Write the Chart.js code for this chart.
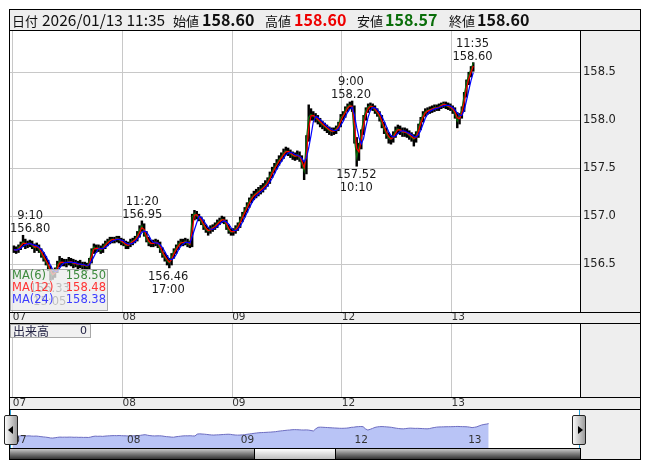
<!DOCTYPE html>
<html><head><meta charset="utf-8">
<script src="https://cdn.jsdelivr.net/npm/chart.js@4.4.1/dist/chart.umd.min.js"></script>
<style>
html,body{margin:0;padding:0;background:#fff;}
#wrap{position:relative;width:653px;height:470px;overflow:hidden;background:#fff;font-family:"DejaVu Sans",sans-serif;}
.a{position:absolute;}
.ln{position:absolute;background:#000;}
.g{position:absolute;background:#eeeeee;}
canvas{position:absolute;left:0;top:0;}
#hdr{position:absolute;left:12px;top:9px;height:21px;line-height:21px;white-space:nowrap;font-family:"Noto Sans CJK JP",sans-serif;color:#111;}
#hdr span{display:inline-block;}
.jl{font-size:13px;}
.dt{font-size:15.5px;}
.bv{font-size:16px;font-weight:bold;}
#leg{position:absolute;left:10px;top:269px;width:96px;height:40px;border:1px solid #a8a8a8;background:rgba(236,236,236,0.78);font-family:"DejaVu Sans",sans-serif;font-size:11.5px;}
#leg div{position:absolute;left:1px;right:1px;height:12px;line-height:12px;}
#leg .v{position:absolute;right:0;top:0;}
#vol{position:absolute;left:10px;top:324px;width:79px;height:12px;border:1px solid #a8a8a8;background:rgba(240,240,240,0.9);line-height:12px;}
.btn{position:absolute;top:415px;height:28px;border:1px solid #222;border-radius:2px;background:linear-gradient(to right,#fafafa,#9c9c9c);}
.tri{position:absolute;top:10px;width:0;height:0;border-top:4px solid transparent;border-bottom:4px solid transparent;}
</style></head><body>
<div id="wrap">
  <!-- grey panels -->
  <div class="g" style="left:10px;top:10px;width:630px;height:20px;"></div>
  <div class="g" style="left:581px;top:31px;width:59px;height:281px;"></div>
  <div class="g" style="left:10px;top:313px;width:630px;height:10px;"></div>
  <div class="g" style="left:581px;top:324px;width:59px;height:73px;"></div>
  <div class="g" style="left:10px;top:398px;width:630px;height:11px;"></div>
  <div class="g" style="left:580px;top:410px;width:60px;height:49px;"></div>

  <canvas id="main" width="653" height="470"></canvas>
  <canvas id="volc" width="653" height="470"></canvas>
  <canvas id="nav" width="653" height="470"></canvas>

  <!-- structural lines -->
  <div class="a" style="left:9px;top:9px;width:630px;height:449px;border:1px solid #000;"></div>
  <div class="ln" style="left:10px;top:30px;width:630px;height:1px;"></div>
  <div class="ln" style="left:10px;top:312px;width:630px;height:1px;"></div>
  <div class="ln" style="left:10px;top:323px;width:630px;height:1px;"></div>
  <div class="ln" style="left:10px;top:397px;width:630px;height:1px;"></div>
  <div class="ln" style="left:10px;top:409px;width:630px;height:1px;"></div>
  <div class="ln" style="left:580px;top:31px;width:1px;height:281px;"></div>
  <div class="ln" style="left:580px;top:324px;width:1px;height:73px;"></div>

  <!-- navigator markers -->
  <div class="a" style="left:10px;top:410px;width:1px;height:5px;background:#2a9fd6;"></div>
  <div class="a" style="left:10px;top:444px;width:1px;height:4px;background:#2a9fd6;"></div>
  <div class="a" style="left:579px;top:410px;width:1px;height:5px;background:#2a9fd6;"></div>
  <div class="a" style="left:579px;top:444px;width:1px;height:4px;background:#2a9fd6;"></div>

  <!-- scrollbar -->
  <div class="a" style="left:10px;top:448px;width:570px;height:10px;border-top:1px solid #000;background:linear-gradient(to bottom,#c8c8c8,#7a7a7a 50%,#333);"></div>
  <div class="a" style="left:254px;top:448px;width:80px;height:10px;border-top:1px solid #000;border-left:1px solid #000;border-right:1px solid #000;background:linear-gradient(to bottom,#ffffff,#bcbcbc);"></div>
  <div class="ln" style="left:580px;top:448px;width:1px;height:11px;"></div>

  <div class="btn" style="left:4px;width:12px;"><div class="tri" style="left:3px;border-right:5px solid #000;"></div></div>
  <div class="btn" style="left:572px;width:12px;"><div class="tri" style="left:5px;border-left:5px solid #000;"></div></div>

  <div id="hdr"></div>
  <div id="leg"></div>
  <div id="vol"></div>
</div>
<script>
// ---------- data ----------
const dayLabels = ['07','08','09','12','13'];
const dayTicks = [0, 48, 96, 144, 192];           // bar index at 7:00 of each day
const priceTicks = [156.5, 157.0, 157.5, 158.0, 158.5];
const barMinutes = 30, sourceBarMinutes = 5, dayStartMinutes = 420;

const closes = [
// 07
156.65,156.64,156.67,156.70,156.73,156.70,156.71,156.72,156.69,156.67,156.69,156.65,
156.60,156.56,156.52,156.47,156.40,156.38,156.43,156.49,156.53,156.51,156.52,156.51,
156.53,156.52,156.50,156.51,156.49,156.50,156.48,156.49,156.47,156.53,156.63,156.68,
156.65,156.67,156.64,156.68,156.71,156.73,156.75,156.76,156.75,156.77,156.75,156.73,
// 08
156.72,156.69,156.70,156.73,156.74,156.76,156.80,156.86,156.90,156.82,156.76,156.72,
156.71,156.72,156.73,156.71,156.65,156.60,156.57,156.53,156.51,156.58,156.63,156.67,
156.71,156.73,156.72,156.74,156.71,156.70,156.99,157.03,157.00,156.98,156.94,156.89,
156.86,156.84,156.87,156.88,156.90,156.93,156.95,156.97,156.95,156.89,156.85,156.83,
// 09
156.84,156.87,156.90,156.96,157.01,157.06,157.11,157.16,157.20,157.22,157.24,157.26,
157.28,157.30,157.33,157.36,157.42,157.47,157.51,157.55,157.59,157.62,157.66,157.68,
157.67,157.65,157.63,157.62,157.64,157.61,157.54,157.47,157.80,158.03,158.06,158.04,
158.02,158.00,157.97,157.95,157.93,157.91,157.89,157.88,157.89,157.91,157.95,158.03,
// 12
158.05,158.11,158.14,158.16,158.13,157.80,157.61,157.73,157.87,158.02,158.10,158.14,
158.15,158.13,158.10,158.07,158.03,157.96,157.90,157.85,157.81,157.80,157.84,157.89,
157.91,157.89,157.87,157.88,157.86,157.84,157.82,157.80,157.84,157.93,158.00,158.06,
158.09,158.10,158.11,158.12,158.13,158.13,158.14,158.16,158.17,158.15,158.14,158.13,
// 13
158.11,158.06,157.99,158.04,158.11,158.26,158.39,158.47,158.53,158.60
];
const highs = [
156.69,156.68,156.70,156.73,156.80,156.76,156.74,156.75,156.74,156.71,156.72,156.70,
156.66,156.62,156.58,156.54,156.48,156.43,156.46,156.53,156.58,156.56,156.55,156.55,
156.57,156.56,156.55,156.54,156.53,156.54,156.52,156.52,156.51,156.56,156.66,156.71,
156.70,156.70,156.69,156.71,156.74,156.76,156.78,156.78,156.78,156.79,156.79,156.77,
156.76,156.74,156.73,156.76,156.77,156.79,156.84,156.90,156.95,156.92,156.84,156.78,
156.75,156.75,156.76,156.75,156.73,156.67,156.62,156.59,156.56,156.61,156.66,156.70,
156.74,156.76,156.76,156.77,156.76,156.74,157.02,157.06,157.05,157.02,156.99,156.96,
156.91,156.88,156.90,156.91,156.93,156.96,156.98,157.00,156.99,156.96,156.91,156.87,
156.87,156.90,156.93,156.99,157.04,157.09,157.14,157.19,157.23,157.26,157.28,157.30,
157.32,157.34,157.37,157.40,157.46,157.51,157.55,157.59,157.63,157.66,157.70,157.72,
157.71,157.69,157.67,157.66,157.68,157.67,157.63,157.57,157.84,158.16,158.12,158.09,
158.07,158.05,158.02,157.99,157.97,157.95,157.93,157.92,157.92,157.94,157.98,158.06,
158.09,158.14,158.17,158.19,158.20,158.15,157.82,157.76,157.90,158.05,158.13,158.17,
158.18,158.17,158.15,158.12,158.09,158.05,157.98,157.92,157.87,157.84,157.88,157.93,
157.95,157.94,157.92,157.92,157.91,157.89,157.87,157.85,157.88,157.96,158.03,158.09,
158.12,158.13,158.14,158.15,158.16,158.16,158.17,158.18,158.19,158.19,158.18,158.17,
158.15,158.13,158.08,158.07,158.14,158.29,158.42,158.50,158.56,158.60
];
const lows = [
156.62,156.61,156.62,156.65,156.68,156.66,156.67,156.68,156.66,156.62,156.64,156.62,
156.57,156.53,156.49,156.43,156.33,156.34,156.36,156.41,156.47,156.48,156.48,156.47,
156.49,156.48,156.46,156.47,156.45,156.46,156.44,156.45,156.43,156.45,156.51,156.61,
156.62,156.63,156.61,156.62,156.66,156.69,156.71,156.72,156.72,156.73,156.72,156.70,
156.69,156.66,156.66,156.68,156.70,156.72,156.74,156.78,156.84,156.79,156.73,156.69,
156.68,156.68,156.69,156.67,156.62,156.57,156.53,156.49,156.46,156.49,156.56,156.61,
156.65,156.69,156.69,156.70,156.68,156.67,156.68,156.96,156.97,156.95,156.91,156.86,
156.83,156.80,156.82,156.84,156.86,156.88,156.91,156.93,156.92,156.86,156.82,156.80,
156.80,156.82,156.85,156.88,156.94,156.99,157.04,157.09,157.14,157.17,157.19,157.21,
157.23,157.25,157.28,157.31,157.34,157.40,157.45,157.49,157.53,157.57,157.60,157.64,
157.63,157.61,157.59,157.58,157.59,157.57,157.50,157.38,157.44,157.78,158.00,158.00,
157.98,157.96,157.93,157.91,157.89,157.87,157.85,157.84,157.85,157.86,157.89,157.93,
158.00,158.03,158.09,158.12,158.09,157.76,157.52,157.58,157.70,157.85,158.00,158.08,
158.11,158.10,158.07,158.04,157.99,157.92,157.86,157.81,157.76,157.75,157.77,157.82,
157.86,157.85,157.83,157.83,157.82,157.80,157.78,157.73,157.77,157.82,157.90,157.98,
158.04,158.06,158.07,158.08,158.09,158.10,158.10,158.12,158.13,158.12,158.11,158.10,
158.07,158.02,157.92,157.96,158.02,158.09,158.24,158.37,158.45,158.51
];

const maPeriods = [6, 12, 24];
const maLabels = ['MA(6)', 'MA(12)', 'MA(24)'];
const maLastValues = ['158.50', '158.48', '158.38'];
const maColors = ['#0a6e0a', '#ff0000', '#0000ff'];
const maTextColors = ['#3d8a3d', '#ff3333', '#3c3cff'];

const annoTimes  = ['9:10', '15:05', '11:20', '17:00', '9:00', '10:10', '11:35'];
const annoDays   = [0, 0, 1, 1, 3, 3, 4];
const annoValues = [156.80, 156.33, 156.95, 156.46, 158.20, 157.52, 158.60];
const annoSides  = ['up', 'down', 'up', 'down', 'up', 'down', 'up'];

const headerDate = '2026/01/13 11:35';
const headerLabels = ['始値', '高値', '安値', '終値'];
const headerValues = ['158.60', '158.60', '158.57', '158.60'];
const headerColors = ['#111', '#ee0000', '#0a6e0a', '#111'];
const volumeLabel = '出来高', volumeLast = '0';

// ---------- html parts ----------
(function(){
  let h = '<span class="jl" style="width:30px">日付</span><span class="dt" style="width:131px">' + headerDate + '</span>';
  const lw = [29, 29, 28, 28], vw = [63, 63, 64, 60];
  headerLabels.forEach((l, k) => {
    h += '<span class="jl" style="width:' + lw[k] + 'px">' + l + '</span>';
    h += '<span class="bv" style="width:' + vw[k] + 'px;color:' + headerColors[k] + '">' + headerValues[k] + '</span>';
  });
  document.getElementById('hdr').innerHTML = h;
  let lg = '';
  maLabels.forEach((l, k) => {
    lg += '<div style="top:' + (-1 + 12 * k) + 'px;color:' + maTextColors[k] + '">' + l + '<span class="v">' + maLastValues[k] + '</span></div>';
  });
  document.getElementById('leg').innerHTML = lg;
  document.getElementById('vol').innerHTML = '<span style="position:absolute;left:2px;top:0;font-family:\'Noto Sans CJK JP\';font-size:12px;color:#222244;">' + volumeLabel + '</span><span style="position:absolute;right:3px;top:0;font-size:11px;color:#222244;">' + volumeLast + '</span>';
})();

// ---------- helpers ----------
function sma(arr, n) {
  return arr.map((_, i) => {
    const s = Math.max(0, i - n + 1);
    let t = 0;
    for (let j = s; j <= i; j++) t += arr[j];
    return t / (i - s + 1);
  });
}
function timeToIndex(day, t) {
  const [hh, mm] = t.split(':').map(Number);
  return dayTicks[day] + (hh * 60 + mm - dayStartMinutes) / barMinutes;
}
const pts = arr => arr.map((v, i) => ({x: i + 0.5, y: v}));
const maBars = maPeriods.map(p => Math.max(1, Math.round(p * sourceBarMinutes / barMinutes)));
const candles = closes.map((c, i) => ({x: i + 0.5, y: [lows[i], highs[i]]}));

const gridColor = '#c8c8c8';
const dayAxis = (min, max, h, pad) => ({
  type: 'linear', min: min, max: max, offset: false,
  afterBuildTicks: s => { s.ticks = dayTicks.map(v => ({value: v})); },
  afterFit: s => { s.height = h; },
  grid: {color: gridColor, drawTicks: false, offset: false},
  border: {display: false},
  ticks: {align: 'start', padding: pad, autoSkip: false, maxRotation: 0,
          font: {family: 'DejaVu Sans', size: 10.5, lineHeight: 1}, color: '#333',
          callback: (v, i) => dayLabels[i]}
});

const annoPlugin = {
  id: 'anno',
  afterDatasetsDraw(chart) {
    const {ctx, chartArea: a} = chart;
    const x = chart.scales.x, y = chart.scales.y;
    ctx.save();
    ctx.font = '11.5px "DejaVu Sans"';
    ctx.fillStyle = '#1a1a1a';
    ctx.textAlign = 'center';
    ctx.textBaseline = 'alphabetic';
    annoTimes.forEach((t, k) => {
      const px = x.getPixelForValue(timeToIndex(annoDays[k], t));
      const py = y.getPixelForValue(annoValues[k]);
      const val = annoValues[k].toFixed(2);
      const w = Math.max(ctx.measureText(val).width, ctx.measureText(t).width);
      const cx = Math.min(Math.max(px, a.left + w / 2), a.right - w / 2);
      if (annoSides[k] === 'up') { ctx.fillText(val, cx, py - 3); ctx.fillText(t, cx, py - 16); }
      else { ctx.fillText(val, cx, py + 12); ctx.fillText(t, cx, py + 25); }
    });
    ctx.restore();
  }
};

const common = {responsive: false, animation: false, devicePixelRatio: 1,
  plugins: {legend: {display: false}, tooltip: {enabled: false}}};

// ---------- main price chart ----------
const maSets = maBars.map((n, k) => ({
  type: 'line', data: pts(sma(closes, n)), borderColor: maColors[k], borderWidth: 1.2,
  pointRadius: 0, tension: 0, order: 3 - k
}));
new Chart(document.getElementById('main'), {
  type: 'bar',
  data: {datasets: [
    ...maSets,
    {type: 'bar', data: candles, backgroundColor: '#000', borderWidth: 0, barThickness: 1.8, grouped: false, order: 4}
  ]},
  options: Object.assign({}, common, {
    layout: {padding: {left: 10, top: 31, right: 13, bottom: 147}},
    scales: {
      x: dayAxis(-1.2, 248.2, 11, 0),
      y: {position: 'right', min: 156.0, max: 158.93,
          afterBuildTicks: s => { s.ticks = priceTicks.map(v => ({value: v})); },
          afterFit: s => { s.width = 60; },
          grid: {color: gridColor, drawTicks: false},
          border: {display: false},
          ticks: {padding: 3, font: {family: 'DejaVu Sans', size: 11.5}, color: '#222',
                  callback: v => v.toFixed(1)}}
    }
  }),
  plugins: [annoPlugin]
});

// ---------- volume panel ----------
new Chart(document.getElementById('volc'), {
  type: 'bar',
  data: {datasets: []},
  options: Object.assign({}, common, {
    layout: {padding: {left: 10, top: 324, right: 13, bottom: 61}},
    scales: {
      x: dayAxis(-1.2, 248.2, 12, 1),
      y: {position: 'right', min: 0, max: 1, afterFit: s => { s.width = 60; },
          grid: {display: false}, border: {display: false}, ticks: {display: false}}
    }
  })
});

// ---------- navigator ----------
const navLabelPlugin = {
  id: 'navLabels',
  afterDraw(chart) {
    const {ctx} = chart;
    const x = chart.scales.x;
    ctx.save();
    ctx.font = '10.5px "DejaVu Sans"';
    ctx.fillStyle = '#333';
    ctx.textAlign = 'left';
    ctx.textBaseline = 'alphabetic';
    dayTicks.forEach((v, k) => ctx.fillText(dayLabels[k], x.getPixelForValue(v) + 2, 443));
    ctx.restore();
  }
};
new Chart(document.getElementById('nav'), {
  type: 'line',
  data: {datasets: [{data: pts(closes), borderColor: '#6c6cc0', borderWidth: 1,
                     backgroundColor: '#b9c4f6', fill: 'start', pointRadius: 0, tension: 0}]},
  options: Object.assign({}, common, {
    layout: {padding: {left: 10, top: 410, right: 73, bottom: 22}},
    scales: {
      x: {type: 'linear', min: -0.55, max: 240.05, z: 1,
          afterBuildTicks: s => { s.ticks = dayTicks.map(v => ({value: v})); },
          afterFit: s => { s.height = 0; },
          grid: {color: '#ffffff', lineWidth: 2, drawTicks: false},
          border: {display: false}, ticks: {display: false}},
      y: {display: false, min: 154.85, max: 160.7}
    }
  }),
  plugins: [navLabelPlugin]
});
</script>
</body></html>
